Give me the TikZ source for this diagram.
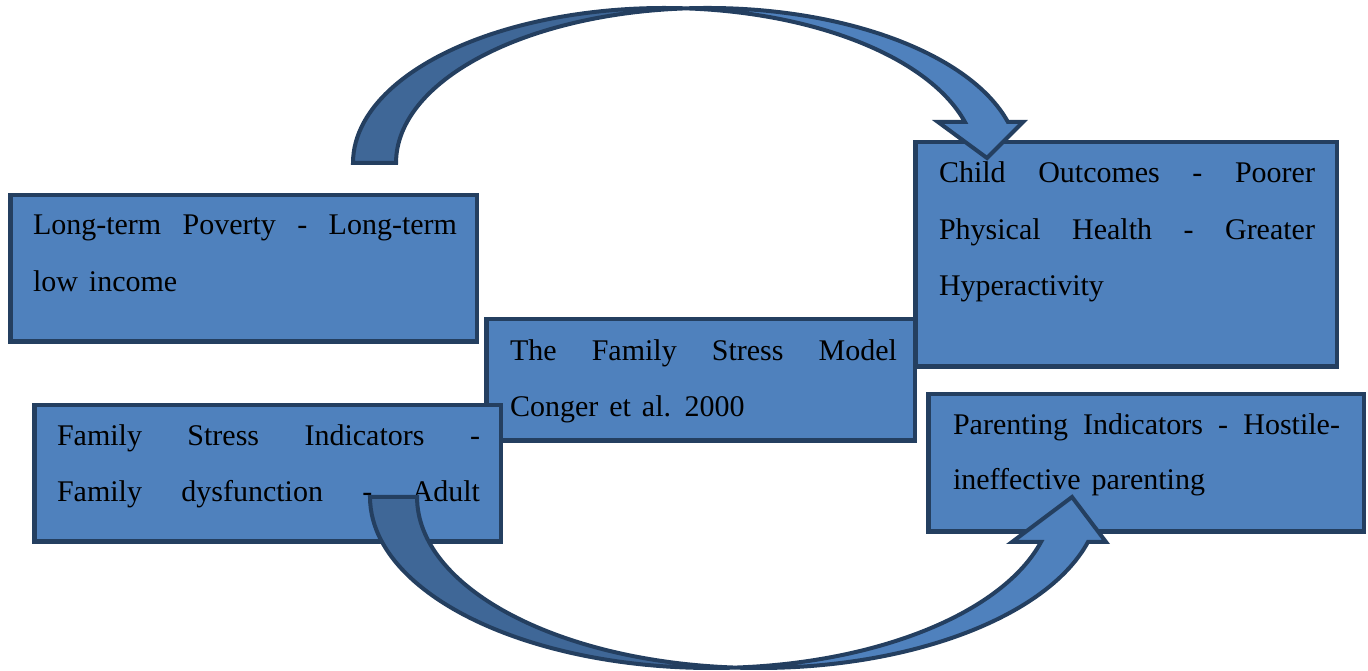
\documentclass[tikz,border=0pt]{standalone}
\usepackage{fontspec}
\setmainfont{Liberation Serif}
\definecolor{boxfill}{HTML}{4F81BD}
\definecolor{boxline}{HTML}{243F60}
\definecolor{armshade}{HTML}{3F6797}
\newcommand{\jline}[2]{\makebox[#1][s]{#2}}
\newcommand{\boxfont}[1]{\fontsize{30}{#1}\selectfont\spaceskip=11pt plus 20pt\relax}
\tikzset{
  panel/.style={rectangle, draw=boxline, fill=boxfill, line width=4.5pt,
                inner sep=0pt, outer sep=0pt},
  boxtext/.style={anchor=base west, inner sep=0pt, outer sep=0pt, text=black},
  arm/.style={draw=boxline, line width=4pt, line join=miter},
}
\begin{document}
\begin{tikzpicture}[x=1pt, y=1pt]
\useasboundingbox (0,0) rectangle (1368,671);

% boxes
\node[panel, minimum width=466.5pt, minimum height=146.5pt] (pov) at (243.5,402.5) {};
\node[panel, minimum width=428.5pt, minimum height=121.5pt] (model) at (700.5,291) {};
\node[panel, minimum width=466.5pt, minimum height=136.5pt] (stress) at (267.5,197.5) {};
\node[panel, minimum width=421.5pt, minimum height=224.5pt] (child) at (1126,416.5) {};
\node[panel, minimum width=435.5pt, minimum height=137.5pt] (parent) at (1146,208) {};

% texts
\node[boxtext] (povtxt) at (33,436) {\parbox[t]{424pt}{\boxfont{57}%
  \jline{\linewidth}{Long-term Poverty - Long-term}\\low income}};
\node[boxtext] (modeltxt) at (510,310) {\parbox[t]{387pt}{\boxfont{56}%
  \jline{\linewidth}{The Family Stress Model}\\Conger et al. 2000}};
\node[boxtext] (stresstxt) at (57,225) {\parbox[t]{423pt}{\boxfont{56}%
  \jline{\linewidth}{Family Stress Indicators -}\\\jline{\linewidth}{Family dysfunction - Adult}}};
\node[boxtext] (childtxt) at (939,488) {\parbox[t]{376pt}{\boxfont{56.5}%
  \jline{\linewidth}{Child Outcomes - Poorer}\\\jline{\linewidth}{Physical Health - Greater}\\Hyperactivity}};
\node[boxtext] (parenttxt) at (953,236) {\parbox[t]{387pt}{\boxfont{55}%
  \jline{\linewidth}{Parenting Indicators - Hostile-}\\ineffective parenting}};

% upper curved arrow: Long-term Poverty -> Child Outcomes
\coordinate (topcross) at (686,662.63);
\coordinate (toptip) at (987,513);
\path[arm, fill=armshade] (353,508)
  arc[start angle=180, end angle=86.04, x radius=311.5pt, y radius=155pt]
  arc[start angle=93.96, end angle=180, x radius=311.5pt, y radius=155pt] -- cycle;
\path[arm, fill=boxfill] (topcross)
  arc[start angle=93.96, end angle=15.34, x radius=311.5pt, y radius=155pt]
  -- (1023,549) -- (toptip) -- (938,549) -- (964.9,549)
  arc[start angle=15.34, end angle=86.04, x radius=311.5pt, y radius=155pt] -- cycle;

% lower curved arrow: Family Stress Indicators -> Parenting Indicators
\coordinate (botcross) at (735,3.41);
\coordinate (bottip) at (1072,174);
\path[arm, fill=armshade] (370,174)
  arc[start angle=180, end angle=273.95, x radius=341.5pt, y radius=171pt]
  arc[start angle=266.05, end angle=180, x radius=341.5pt, y radius=171pt] -- cycle;
\path[arm, fill=boxfill] (botcross)
  arc[start angle=266.05, end angle=344.74, x radius=341.5pt, y radius=171pt]
  -- (1106,129) -- (bottip) -- (1012,129) -- (1041,129)
  arc[start angle=344.74, end angle=273.95, x radius=341.5pt, y radius=171pt] -- cycle;
\end{tikzpicture}
\end{document}
